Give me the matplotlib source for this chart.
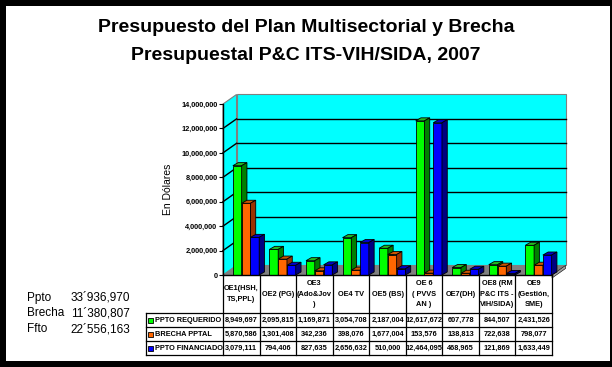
import matplotlib.pyplot as plt
from matplotlib.patches import Polygon, Rectangle

# data
categories = ["OE1(HSH,\nTS,PPL)", "OE2 (PG)", "OE3\n(Ado&Jov\n)", "OE4 TV", "OE5 (BS)",
              "OE 6\n( PVVS\nAN )", "OE7(DH)", "OE8 (RM\nP&C ITS -\nVIH/SIDA)", "OE9\n(Gestión,\nSME)"]
series_names = ["PPTO REQUERIDO", "BRECHA PPTAL", "PPTO FINANCIADO"]
requerido = [8949697, 2095815, 1169871, 3054708, 2187004, 12617672, 607778, 844507, 2431526]
brecha = [5870586, 1301408, 342236, 398076, 1677004, 153576, 138813, 722638, 798077]
financiado = [3079111, 794406, 827635, 2656632, 510000, 12464095, 468965, 121869, 1633449]
yticks = [0, 2e6, 4e6, 6e6, 8e6, 10e6, 12e6, 14e6]
summary_labels = ["Ppto", "Brecha", "Ffto"]
summary_values = ["33´936,970", "11´380,807", "22´556,163"]

series = [requerido, brecha, financiado]
front_c = ["#00FF00", "#FF6600", "#0000FF"]
top_c = ["#22BB22", "#CC5500", "#0000CC"]
side_c = ["#008000", "#993300", "#000080"]

font = "Liberation Sans"
W, H = 612, 367
fig = plt.figure(figsize=(W / 100, H / 100), dpi=100)
fig.patch.set_facecolor("white")

# main plot area (front plane)
x0, x1, yb, yt = 223, 552, 275, 104
ax = fig.add_axes([x0 / W, 1 - yb / H, (x1 - x0) / W, (yb - yt) / H])
ax.set_xlim(0, 9)
ax.set_ylim(0, 14e6)
ax.patch.set_visible(False)
for s in ["top", "right"]:
    ax.spines[s].set_visible(False)
ax.spines["left"].set_linewidth(1.0)
ax.spines["bottom"].set_linewidth(1.0)
ax.spines["left"].set_zorder(10)
ax.spines["bottom"].set_zorder(10)
ax.set_xticks([])
ax.set_yticks(yticks)
ax.set_yticklabels([f"{int(v):,}" for v in yticks], fontsize=5.3, fontweight="bold", family=font)
ax.tick_params(axis="y", length=3, width=0.8, pad=1)
ax.set_ylabel("En Dólares", fontsize=7.5, family=font, labelpad=6)

# wall depth offset
dx, dy = 0.37, 0.78e6
ymax = 14e6
ax.add_patch(Polygon([(0, 0), (dx, dy), (dx, ymax + dy), (0, ymax)], closed=True,
                     facecolor="#00FFFF", edgecolor="#808080", lw=0.8, clip_on=False, zorder=1))
ax.add_patch(Polygon([(dx, dy), (9 + dx, dy), (9 + dx, ymax + dy), (dx, ymax + dy)], closed=True,
                     facecolor="#00FFFF", edgecolor="#808080", lw=0.8, clip_on=False, zorder=1))
ax.add_patch(Polygon([(0, 0), (9, 0), (9 + dx, dy), (dx, dy)], closed=True,
                     facecolor="#808080", edgecolor="#808080", lw=0.5, clip_on=False, zorder=2))
ax.add_patch(Polygon([(9, 0), (9 + dx, dy), (9 + dx, dy - 0.25e6), (9, -0.25e6)], closed=True,
                     facecolor="#A0A0A0", edgecolor="black", lw=0.4, clip_on=False, zorder=2))
for v in yticks[1:-1]:
    ax.plot([dx, 9 + dx], [v + dy, v + dy], color="black", lw=1.0, clip_on=False, zorder=1.5)
    ax.plot([0, dx], [v, v + dy], color="black", lw=1.0, clip_on=False, zorder=1.5)

# bars with fake depth
off, bw = 0.27, 0.24
bdx, bdy = 0.145, 0.25e6
z = 3
for i in range(len(categories)):
    for k, vals in enumerate(series):
        left = i + off + k * bw
        v = vals[i]
        ax.bar(left, v, width=bw, align="edge", color=front_c[k], edgecolor="black",
               lw=0.6, zorder=z, clip_on=False)
        ax.add_patch(Polygon([(left, v), (left + bw, v), (left + bw + bdx, v + bdy), (left + bdx, v + bdy)],
                             closed=True, facecolor=top_c[k], edgecolor="black", lw=0.6,
                             clip_on=False, zorder=z))
        ax.add_patch(Polygon([(left + bw, 0), (left + bw + bdx, bdy), (left + bw + bdx, v + bdy), (left + bw, v)],
                             closed=True, facecolor=side_c[k], edgecolor="black", lw=0.6,
                             clip_on=False, zorder=z))
        z += 0.01

# overlay for texts, table and frame (pixel coordinates)
ov = fig.add_axes([0, 0, 1, 1], zorder=5)
ov.set_xlim(0, W)
ov.set_ylim(H, 0)
ov.axis("off")

ov.text(306, 28, "Presupuesto del Plan Multisectorial y Brecha", ha="center", va="center",
        fontsize=14, fontweight="bold", family=font)
ov.text(306, 55, "Presupuestal P&C ITS-VIH/SIDA, 2007", ha="center", va="center",
        fontsize=14, fontweight="bold", family=font)

for j, (lab, val) in enumerate(zip(summary_labels, summary_values)):
    y = 298 + j * 15.5
    ov.text(27, y, lab, ha="left", va="center", fontsize=8.5, family=font)
    ov.text(130, y, val, ha="right", va="center", fontsize=8.5, family=font)

# data table
cw = (x1 - x0) / 9
xs = [x0 + i * cw for i in range(10)]
rows_y = [275, 313, 327, 341, 355]
tlw = 0.9
for x in xs:
    ov.plot([x, x], [275, 355], color="black", lw=tlw)
ov.plot([146, 146], [313, 355], color="black", lw=tlw)
for y in rows_y[1:]:
    ov.plot([146, x1], [y, y], color="black", lw=tlw)
for i, cat in enumerate(categories):
    ov.text(xs[i] + cw / 2, 294, cat, ha="center", va="center", fontsize=5.3,
            fontweight="bold", family=font, linespacing=1.7)
    for k, vals in enumerate(series):
        ov.text(xs[i] + cw / 2, (rows_y[k + 1] + rows_y[k + 2]) / 2, f"{vals[i]:,}",
                ha="center", va="center", fontsize=5.3, fontweight="bold", family=font)
for k, name in enumerate(series_names):
    yc = (rows_y[k + 1] + rows_y[k + 2]) / 2
    ov.add_patch(Rectangle((148, yc - 2.5), 5, 5, facecolor=front_c[k], edgecolor="black", lw=0.6))
    ov.text(155, yc, name, ha="left", va="center", fontsize=5.3, fontweight="bold", family=font)

# black frame
for r in [(0, 0, 6, H), (0, 0, W, 6), (610, 0, 2, H), (0, 361, W, 6)]:
    ov.add_patch(Rectangle(r[:2], r[2], r[3], facecolor="black", edgecolor="none"))

fig.savefig("out.png", dpi=100)
